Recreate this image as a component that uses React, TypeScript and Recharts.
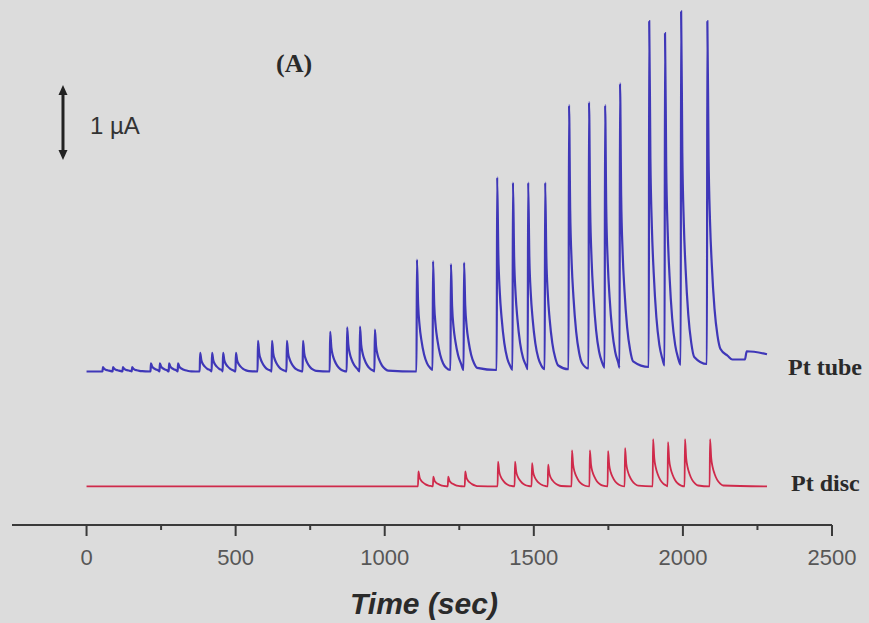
import React from "react";
import { LineChart, Line, XAxis, YAxis, ReferenceLine } from "recharts";

// apex time (s) and apex current (µA above the Pt tube baseline)
const blueTimes = [
  55, 89, 122, 153, 216, 246, 277, 307, 381, 421, 458, 501, 575, 622, 672, 726,
  817, 874, 917, 967, 1108, 1162, 1222, 1266, 1377, 1430, 1481, 1538, 1618, 1685,
  1739, 1789, 1887, 1940, 1994, 2082,
];
const blueHeights = [
  0.06, 0.06, 0.06, 0.06, 0.11, 0.11, 0.11, 0.11, 0.25, 0.25, 0.25, 0.25, 0.41,
  0.41, 0.41, 0.41, 0.53, 0.59, 0.6, 0.56, 1.49, 1.47, 1.43, 1.45, 2.59, 2.52,
  2.52, 2.52, 3.55, 3.59, 3.55, 3.84, 4.67, 4.51, 4.8, 4.67,
];
const blueFloors = [
  0, 0, 0, 0, 0, 0, 0, 0, 0, 0, 0, 0, 0, 0, 0, 0, 0, 0, 0, 0, 0.02, 0.02, 0.02,
  0.02, 0.02, 0.03, 0.03, 0.03, 0.04, 0.05, 0.05, 0.06, 0.08, 0.09, 0.1, 0.21,
];
const blueEndTimes = [2150, 2166, 2208, 2214, 2282];
const blueEndValues = [0.21, 0.16, 0.16, 0.27, 0.23];

// Pt disc trace
const redBase = -1.533;
const redTimes = [
  1113, 1163, 1213, 1270, 1380, 1437, 1494, 1548, 1628, 1688, 1749, 1806, 1900,
  1950, 2007, 2091,
];
const redHeights = [
  0.2, 0.13, 0.13, 0.2, 0.33, 0.33, 0.31, 0.29, 0.48, 0.48, 0.47, 0.51, 0.63,
  0.59, 0.63, 0.63,
];
const traceEnd = 2282;

// shape of one injection peak (s after apex, fraction of height)
const shapeOffsets = [-1.5, 0, 4, 9, 15, 24, 34, 44];
const shapeFractions = [0, 1, 0.6, 0.4, 0.27, 0.14, 0.06, 0.02];

const xTicks = [-250, 0, 250, 500, 750, 1000, 1250, 1500, 1750, 2000, 2250, 2500];

type Pt = { t: number; v: number };

function buildTrace(
  times: number[],
  heights: number[],
  floors: number[],
  base: number
): Pt[] {
  const pts: Pt[] = [{ t: 0, v: base }];
  times.forEach((t0, i) => {
    const next = i < times.length - 1 ? times[i + 1] - 2 : Infinity;
    const prevFloor = i > 0 ? floors[i - 1] : 0;
    shapeOffsets.forEach((o, k) => {
      const t = t0 + o;
      if (t >= next) return;
      const floor = k === 0 ? prevFloor : floors[i];
      const v = base + floor + (heights[i] - floor) * shapeFractions[k];
      pts.push({ t, v });
    });
  });
  return pts;
}

const blueData = [
  ...buildTrace(blueTimes, blueHeights, blueFloors, 0),
  ...blueEndTimes.map((t, i) => ({ t, v: blueEndValues[i] })),
];
const redData = [
  ...buildTrace(
    redTimes,
    redHeights,
    redTimes.map(() => 0),
    redBase
  ),
  { t: traceEnd, v: redBase },
];

const TimeTick = (props: any) => {
  const { x, y, payload } = props;
  const v = payload.value;
  const major = v >= 0 && v % 500 === 0;
  return (
    <g>
      <line x1={x} y1={y} x2={x} y2={y + (major ? 11 : 5)} stroke="#3a3a3a" strokeWidth={2} />
      {major && (
        <text
          x={x}
          y={y + 40}
          textAnchor="middle"
          fill="#575757"
          fontSize={22}
          fontFamily="Liberation Sans, Arial, sans-serif"
        >
          {v}
        </text>
      )}
    </g>
  );
};

const ScaleArrow = (props: any) => {
  const { x1, y1, x2, y2 } = props;
  const top = Math.min(y1, y2);
  const bot = Math.max(y1, y2);
  return (
    <g>
      <line x1={x1} y1={top + 6} x2={x2} y2={bot - 6} stroke="#222" strokeWidth={3} />
      <polygon points={`${x1 - 4.5},${top + 10} ${x1 + 4.5},${top + 10} ${x1},${top}`} fill="#222" />
      <polygon points={`${x1 - 4.5},${bot - 10} ${x1 + 4.5},${bot - 10} ${x1},${bot}`} fill="#222" />
    </g>
  );
};

export default function App() {
  return (
    <div
      style={{
        position: "absolute",
        left: 0,
        top: 0,
        width: 869,
        height: 623,
        background: "#dcdcdc",
        overflow: "hidden",
      }}
    >
      <LineChart
        width={869}
        height={623}
        margin={{ top: 0, right: 37, left: 12, bottom: 0 }}
      >
        <XAxis
          type="number"
          dataKey="t"
          domain={[-250, 2500]}
          ticks={xTicks}
          tick={<TimeTick />}
          tickLine={false}
          tickSize={0}
          tickMargin={0}
          height={98}
          axisLine={{ stroke: "#3a3a3a", strokeWidth: 2 }}
          allowDataOverflow
        />
        <YAxis type="number" domain={[-2.047, 4.953]} hide allowDataOverflow />
        <ReferenceLine
          segment={[
            { x: -79, y: 2.82 },
            { x: -79, y: 3.82 },
          ]}
          shape={<ScaleArrow />}
          ifOverflow="visible"
        />
        <Line
          data={blueData}
          dataKey="v"
          type="monotone"
          stroke="#3f37b8"
          strokeWidth={2.2}
          dot={false}
          isAnimationActive={false}
        />
        <Line
          data={redData}
          dataKey="v"
          type="monotone"
          stroke="#cf2a4b"
          strokeWidth={1.8}
          dot={false}
          isAnimationActive={false}
        />
      </LineChart>
      <svg
        width={869}
        height={623}
        style={{ position: "absolute", left: 0, top: 0, pointerEvents: "none" }}
      >
        <text x={276} y={72} fontSize={26} fontWeight="bold" fontFamily="Liberation Serif, serif" fill="#2a2a2a">
          (A)
        </text>
        <text x={90} y={134} fontSize={24} fontFamily="Liberation Sans, Arial, sans-serif" fill="#333">
          1 µA
        </text>
        <text x={788} y={375} fontSize={24} fontWeight="bold" fontFamily="Liberation Serif, serif" fill="#2a2a2a">
          Pt tube
        </text>
        <text x={791} y={491} fontSize={24} fontWeight="bold" fontFamily="Liberation Serif, serif" fill="#2a2a2a">
          Pt disc
        </text>
        <text
          x={424}
          y={614}
          textAnchor="middle"
          fontSize={30}
          fontWeight="bold"
          fontStyle="italic"
          fontFamily="Liberation Sans, Arial, sans-serif"
          fill="#2a2a2a"
        >
          Time (sec)
        </text>
      </svg>
    </div>
  );
}
